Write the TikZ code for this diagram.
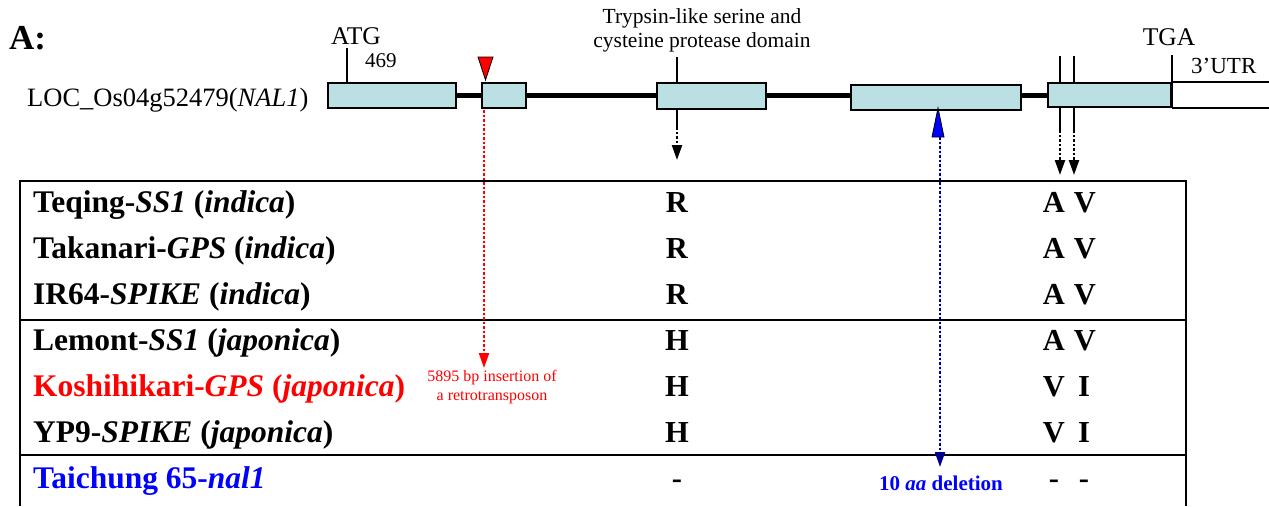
\documentclass[tikz,border=0pt]{standalone}
\usepackage{fontspec}
\setmainfont{Liberation Serif}
\usetikzlibrary{arrows.meta}
\definecolor{exonfill}{RGB}{186,224,227}
\definecolor{navyline}{RGB}{0,0,140}
\definecolor{insred}{RGB}{255,0,0}
\definecolor{delblue}{RGB}{0,0,255}
\begin{document}
\begin{tikzpicture}[x=1pt,y=-1pt,
  exon/.style={draw=black, line width=2pt, fill=exonfill, inner sep=0pt},
  tick/.style={line width=1.2pt},
  txt/.style={inner sep=0pt, anchor=base},
  lbl/.style={inner sep=0pt, anchor=base west, font=\fontsize{31.5}{36}\selectfont\bfseries},
  res/.style={inner sep=0pt, anchor=base, font=\fontsize{30.5}{36}\selectfont\bfseries},
  tbl/.style={line width=1.8pt},
  dotarrow/.style={line width=2.2pt, dash pattern=on 2.5pt off 2pt,
    -{Triangle[length=15pt,width=10pt]}},
]
\useasboundingbox (0,0) rectangle (1269,506);

% ---- gene model ----
\coordinate (bbL) at (457,95.5);
\coordinate (bbR) at (1047,95.5);
\draw[line width=5pt] (bbL) -- (bbR);

\node[exon, minimum width=128, minimum height=25] (e1) at (392,95.5) {};
\node[exon, minimum width=44,  minimum height=25] (e2) at (504,95.5) {};
\node[exon, minimum width=109, minimum height=26] (e3) at (711.5,96) {};
\node[exon, minimum width=170, minimum height=25] (e4) at (936,97.5) {};
\node[exon, minimum width=123, minimum height=24] (e5) at (1109.5,95) {};

% 3' UTR (open box running off to the right)
\coordinate (utrT) at (1172,82);
\coordinate (utrB) at (1172,108);
\draw[line width=1.5pt] (utrT) -- (1275,82);
\draw[line width=1.5pt] (utrB) -- (1275,108);
\coordinate (tgatop) at (1172,55);
\draw[line width=2pt] (tgatop) -- (utrB);

% labels above the gene
\node[txt, anchor=base west, font=\fontsize{35}{38}\selectfont\bfseries] (panel) at (9,49) {A:};
\node[txt, anchor=base west, font=\fontsize{26.5}{30}\selectfont] (locus) at (27,106) {LOC\_Os04g52479(\textit{NAL1})};
\node[txt, font=\fontsize{25.5}{30}\selectfont] (atg) at (356,44) {ATG};
\node[txt, anchor=base west, font=\fontsize{21}{25}\selectfont] (pos) at (365,67) {469};
\node[txt, font=\fontsize{25.5}{30}\selectfont] (tga) at (1169,45) {TGA};
\node[txt, anchor=base west, font=\fontsize{23}{28}\selectfont] (utr) at (1191,73) {3’UTR};
\node[inner sep=0pt, align=center, font=\fontsize{21.5}{24}\selectfont] (dom) at (702,30)
  {Trypsin-like serine and\\cysteine protease domain};

% position ticks
\coordinate (atgtick) at (347,48);
\draw[tick] (atgtick) -- (atgtick |- e1.north);
\coordinate (domtick) at (677,57);
\draw[tick] (domtick) -- (domtick |- e3.north);
\coordinate (snpA) at (1060,56);
\coordinate (snpB) at (1074,56);
\draw[tick] (snpA) -- (snpA |- e5.north);
\draw[tick] (snpB) -- (snpB |- e5.north);

% insertion site (red) and deletion site (blue)
\coordinate (ins) at (485.5,80);
\draw[fill=insred, line width=0.8pt] (ins) -- ++(-7.5,-23) -- ++(15,0) -- cycle;
\coordinate (del) at (938,108);
\draw[fill=delblue, line width=0.8pt] (del) -- ++(-6,29) -- ++(12,0) -- cycle;

% ---- table ----
\coordinate (tl) at (20,181);
\coordinate (tr) at (1186,181);
\draw[tbl] (20,506) -- (tl) -- (tr) -- (1186,506);
\coordinate (s1l) at (20,320);
\coordinate (s1r) at (1186,320);
\coordinate (s2l) at (20,455);
\coordinate (s2r) at (1186,455);
\draw[tbl] (s1l) -- (s1r);
\draw[tbl] (s2l) -- (s2r);

\node[lbl] (r1) at (33,212) {Teqing-\textit{SS1} (\textit{indica})};
\node[lbl] (r2) at (33,258) {Takanari-\textit{GPS} (\textit{indica})};
\node[lbl] (r3) at (33,304) {IR64-\textit{SPIKE} (\textit{indica})};
\node[lbl] (r4) at (33,350) {Lemont-\textit{SS1} (\textit{japonica})};
\node[lbl, text=insred] (r5) at (33,396) {Koshihikari-\textit{GPS} (\textit{japonica})};
\node[lbl] (r6) at (33,442) {YP9-\textit{SPIKE} (\textit{japonica})};
\node[lbl, text=delblue] (r7) at (33,488) {Taichung 65-\textit{nal1}};

% residue columns
\node[res] (c1a) at (677,212) {R};
\node[res] (c1b) at (677,258) {R};
\node[res] (c1c) at (677,304) {R};
\node[res] (c1d) at (677,350) {H};
\node[res] (c1e) at (677,396) {H};
\node[res] (c1f) at (677,442) {H};
\node[res] (c1g) at (677,488) {-};

\node[res] (c2a) at (1054,212) {A};
\node[res] (c2b) at (1054,258) {A};
\node[res] (c2c) at (1054,304) {A};
\node[res] (c2d) at (1054,350) {A};
\node[res] (c2e) at (1054,396) {V};
\node[res] (c2f) at (1054,442) {V};
\node[res] (c2g) at (1054,488) {-};

\node[res] (c3a) at (1085,212) {V};
\node[res] (c3b) at (1085,258) {V};
\node[res] (c3c) at (1085,304) {V};
\node[res] (c3d) at (1085,350) {V};
\node[res] (c3e) at (1084,396) {I};
\node[res] (c3f) at (1084,442) {I};
\node[res] (c3g) at (1084,488) {-};

% annotations
\node[inner sep=0pt, align=center, text=insred, font=\fontsize{16}{19}\selectfont] (instxt) at (492,387)
  {5895 bp insertion of\\a retrotransposon};
\node[txt, text=delblue, font=\fontsize{21}{25}\selectfont\bfseries] (deltxt) at (941,490)
  {10 \textit{aa} deletion};

% ---- connectors ----
% domain site to R/H column
\coordinate (domA) at (677,127);
\coordinate (domB) at (677,160);
\draw[tick] (domA |- e3.south) -- (domA);
\draw[dotarrow] (domA) -- (domB);

% two SNP sites to the A/V column
\coordinate (snpAa) at (1060,130);
\coordinate (snpAb) at (1060,175);
\coordinate (snpBa) at (1074,130);
\coordinate (snpBb) at (1074,175);
\draw[tick] (snpAa |- e5.south) -- (snpAa);
\draw[tick] (snpBa |- e5.south) -- (snpBa);
\draw[dotarrow] (snpAa) -- (snpAb);
\draw[dotarrow] (snpBa) -- (snpBb);

% insertion
\coordinate (insA) at (484,110);
\coordinate (insB) at (484,368);
\draw[dotarrow, draw=insred, fill=insred] (insA) -- (insB);

% deletion
\coordinate (delA) at (940,137);
\coordinate (delB) at (940,467);
\draw[dotarrow, draw=navyline, fill=navyline] (delA) -- (delB);

\end{tikzpicture}
\end{document}
